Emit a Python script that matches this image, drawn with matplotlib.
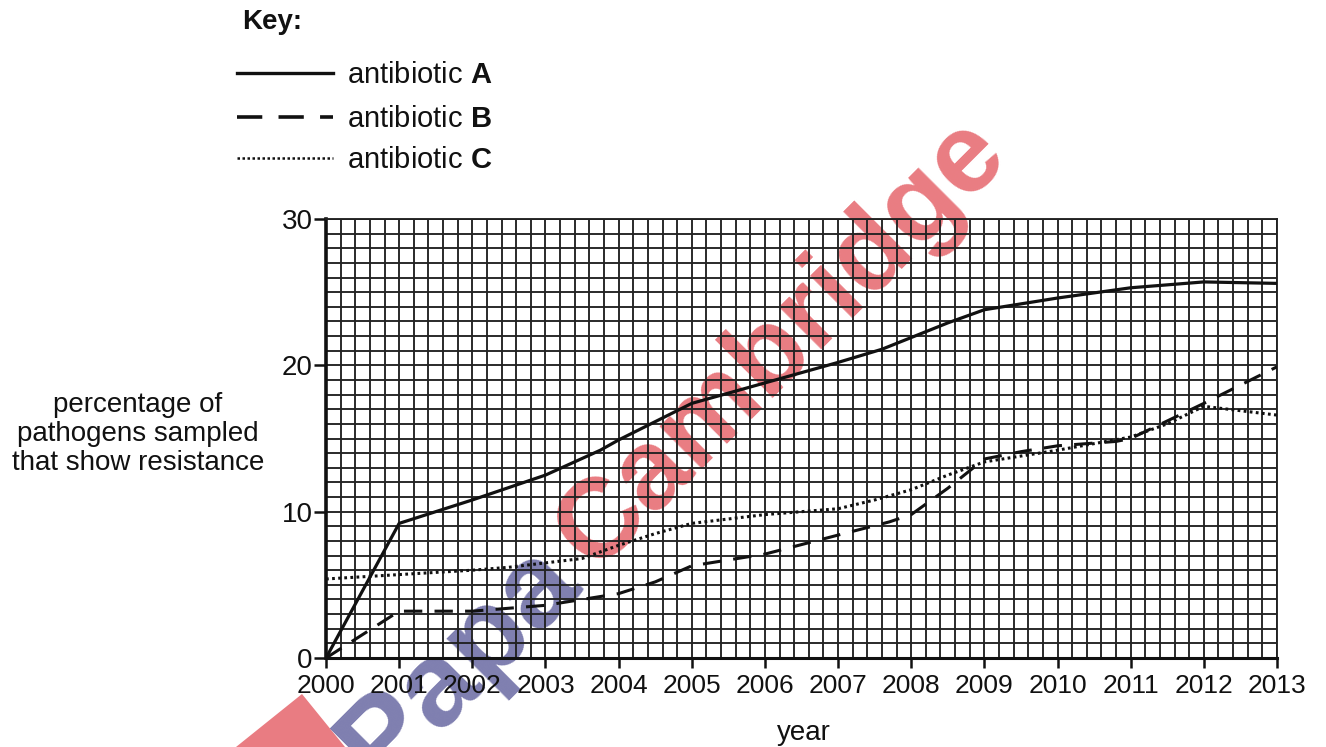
import matplotlib
matplotlib.use("Agg")
import matplotlib.pyplot as plt
from matplotlib.lines import Line2D
from matplotlib.patches import Polygon
import numpy as np

# ---------------- data ----------------
years_a = [2000, 2001, 2002, 2003, 2003.75, 2004, 2005, 2006, 2006.5, 2007, 2007.6,
           2008, 2008.5, 2009, 2010, 2011, 2012, 2013]
vals_a = [0, 9.2, 10.8, 12.5, 14.2, 14.9, 17.4, 18.8, 19.5, 20.2, 21.1,
          21.9, 22.9, 23.8, 24.6, 25.3, 25.7, 25.6]

years_b = [2000, 2001, 2002, 2003, 2003.5, 2004, 2004.5, 2005, 2006, 2007, 2007.7,
           2008, 2008.5, 2009, 2009.5, 2010, 2010.8, 2011, 2012, 2013]
vals_b = [0, 3.2, 3.2, 3.6, 4.0, 4.4, 5.2, 6.3, 7.1, 8.4, 9.3,
          9.8, 11.6, 13.6, 14.1, 14.5, 14.8, 15.0, 17.4, 19.9]

years_c = [2000, 2001, 2002, 2002.5, 2003, 2003.5, 2004, 2004.5, 2005, 2006, 2007,
           2007.5, 2008, 2008.5, 2009, 2010, 2011, 2011.5, 2012, 2012.5, 2013]
vals_c = [5.4, 5.7, 6.0, 6.2, 6.5, 6.8, 7.7, 8.5, 9.2, 9.8, 10.2,
          10.8, 11.5, 12.5, 13.4, 14.2, 15.1, 16.0, 17.2, 16.9, 16.6]

x_ticks = list(range(2000, 2014))
y_ticks = [0, 10, 20, 30]
series_labels = ["A", "B", "C"]

# ---------------- figure ----------------
plt.rcParams['font.family'] = ['Liberation Sans', 'DejaVu Sans']
plt.rcParams['mathtext.fontset'] = 'custom'
plt.rcParams['mathtext.bf'] = 'Liberation Sans:bold'
plt.rcParams['mathtext.rm'] = 'Liberation Sans'

W, H = 1326, 747
fig = plt.figure(figsize=(W / 100, H / 100), dpi=100)
fig.patch.set_facecolor('white')

def fx(px):
    return px / W

def fy(py):
    return 1 - py / H

ax = fig.add_axes([fx(326), fy(658), fx(1277) - fx(326), fy(219) - fy(658)])
ax.patch.set_alpha(0)
ax.set_xlim(2000, 2013)
ax.set_ylim(0, 30)

# grid
grid_color = '#222222'
for xv in np.arange(2000, 2013.001, 0.2):
    ax.axvline(xv, color=grid_color, lw=1.35, zorder=1)
for yv in range(0, 31):
    ax.axhline(yv, color=grid_color, lw=1.35, zorder=1)

ax.plot(years_a, vals_a, color='#111111', lw=2.3, zorder=3, solid_joinstyle='round')
ax.plot(years_b, vals_b, color='#111111', lw=2.2, dashes=(6, 4), zorder=3)
ax.plot(years_c, vals_c, color='#111111', lw=2.2, dashes=(0.9, 1.1), zorder=3)

for s in ['top', 'right']:
    ax.spines[s].set_linewidth(1.35)
    ax.spines[s].set_color(grid_color)
ax.spines['left'].set_linewidth(2.6)
ax.spines['bottom'].set_linewidth(2.2)
ax.spines['left'].set_color('#111111')
ax.spines['bottom'].set_color('#111111')

ax.set_xticks(x_ticks)
ax.set_xticklabels([str(v) for v in x_ticks])
ax.set_yticks(y_ticks)
ax.set_yticklabels([str(v) for v in y_ticks])
ax.tick_params(axis='x', direction='out', length=7.5, width=1.8, labelsize=19, pad=4,
               colors='#111111')
ax.tick_params(axis='y', direction='out', length=8.5, width=1.8, labelsize=20, pad=1,
               colors='#111111')

# axis labels
fig.text(fx(138), fy(434), "percentage of\npathogens sampled\nthat show resistance",
         ha='center', va='center', fontsize=20, linespacing=1.15, color='#111111')
fig.text(fx(804), fy(733), "year", ha='center', va='center', fontsize=20, color='#111111')

# key
fig.text(fx(242), fy(22), "Key:", ha='left', va='center', fontsize=20,
         fontweight='bold', color='#111111')
key_y = [73, 117, 158]
styles = [dict(lw=2.4), dict(lw=2.6, dashes=(7, 4.5)), dict(lw=1.8, dashes=(1, 1))]
for lab, ky, st in zip(series_labels, key_y, styles):
    fig.add_artist(Line2D([fx(237), fx(333)], [fy(ky), fy(ky)], color='#111111',
                          transform=fig.transFigure, **st))
    fig.text(fx(347), fy(ky + 2), r"antibiotic $\mathbf{" + lab + "}$", ha='left',
             va='center', fontsize=21, color='#111111')

# watermark (drawn beneath the grid, like a multiplied stamp)
red = '#e97c82'
blue = '#7f7fb0'
fig.text(fx(594), fy(572), "Cambridge", rotation=45, rotation_mode='anchor',
         ha='left', va='baseline', fontsize=81, fontweight='bold', color=red,
         zorder=-1)
fig.text(fx(582), fy(584), "Papa", rotation=45, rotation_mode='anchor',
         ha='right', va='baseline', fontsize=86, fontweight='bold', color=blue,
         zorder=-1)
tri = Polygon([(fx(236), fy(747)), (fx(302), fy(694)), (fx(345), fy(747))],
              closed=True, transform=fig.transFigure, facecolor=red,
              edgecolor='none', zorder=-2)
fig.add_artist(tri)

fig.savefig("out.png", dpi=100)
